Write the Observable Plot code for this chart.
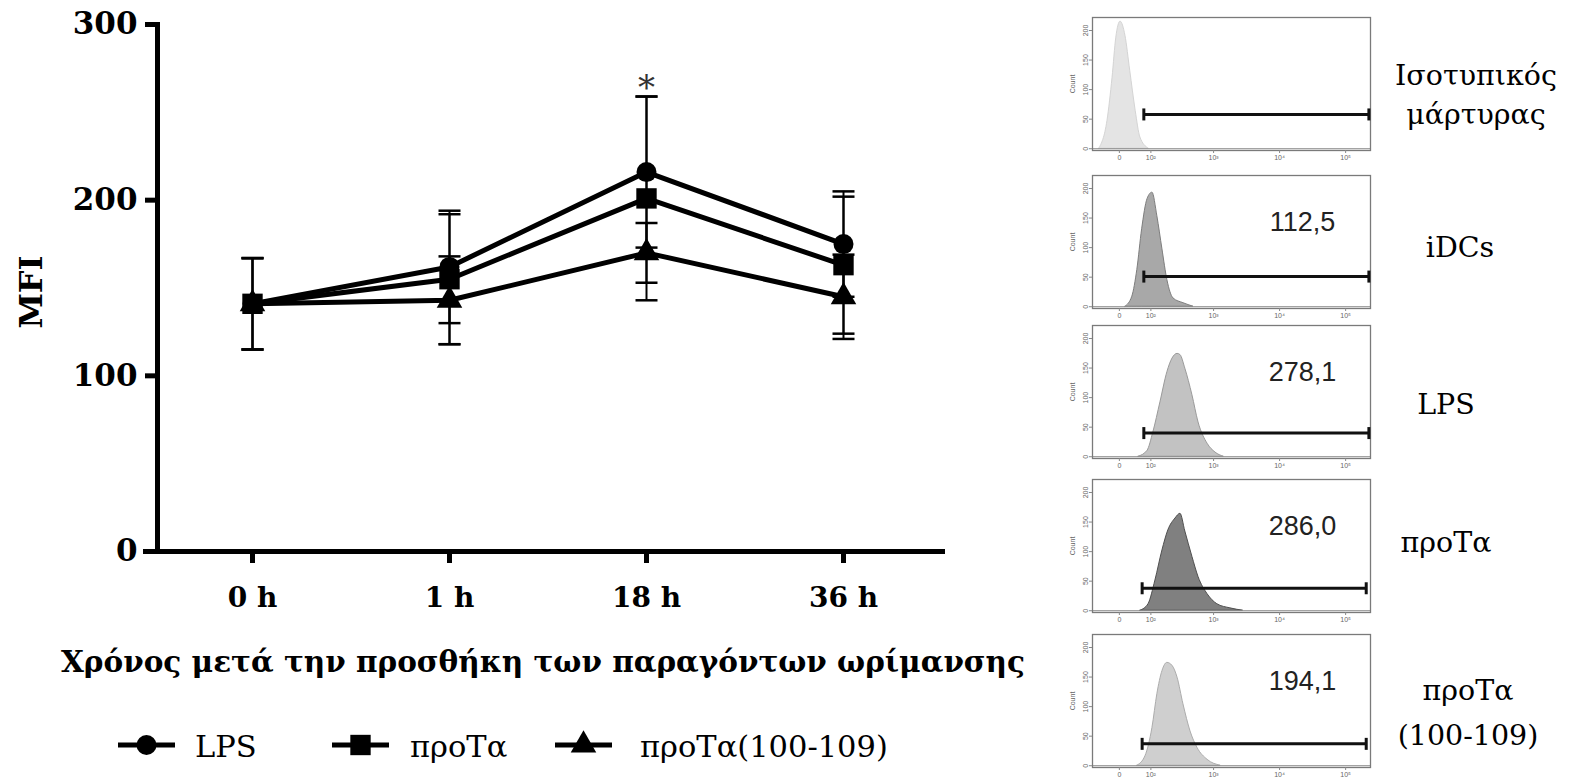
<!DOCTYPE html>
<html><head><meta charset="utf-8">
<script src="https://cdn.jsdelivr.net/npm/d3@7"></script>
<script src="https://cdn.jsdelivr.net/npm/@observablehq/plot@0.6"></script>
<style>
body{margin:0;background:#fff;}
#root{position:relative;width:1575px;height:779px;overflow:hidden;}
#root svg{position:absolute;}
</style></head><body><div id="root"></div>
<script>
// ---------- Left chart data ----------
const times = ["0 h", "1 h", "18 h", "36 h"];
const seriesNames = ["LPS", "προΤα", "προΤα(100-109)"];
const lpsMean = [141, 162, 216, 175];
const lpsErr = [26, 32, 43, 30];
const protaMean = [141, 155, 201, 163];
const protaErr = [26, 37, 58, 39];
const pepMean = [141, 143, 170, 145];
const pepErr = [26, 25, 17, 24];
const yTicks = [0, 100, 200, 300];
const signifTime = ["18 h"];
const signifSeries = ["LPS"];
const signifMark = ["*"];

// ---------- Right panels data ----------
const panelLabels = [["Ισοτυπικός", "μάρτυρας"], ["iDCs"], ["LPS"], ["προΤα"], ["προΤα", "(100-109)"]];
const mfiValues = [null, "112,5", "278,1", "286,0", "194,1"];
const hist1X = [-57, -32, -18, -8, 3, 16, 29, 45, 60, 91];
const hist1C = [0, 47, 120, 188, 215, 191, 132, 64, 19, 0];
const hist2X = [16, 35, 50, 66, 86, 107, 131, 160, 193, 242, 346, 494];
const hist2C = [0, 17, 62, 131, 182, 193, 153, 97, 45, 14, 6, 0];
const hist3X = [54, 86, 111, 148, 193, 233, 280, 311, 370, 476, 590, 810, 1070, 1430];
const hist3C = [0, 10, 41, 92, 143, 166, 174, 172, 149, 104, 58, 22, 7, 0];
const hist4X = [60, 90, 121, 160, 200, 260, 311, 370, 476, 590, 810, 1140, 1800, 2800];
const hist4C = [0, 11, 51, 102, 136, 156, 164, 134, 91, 57, 28, 11, 4, 0];
const hist5X = [50, 78, 107, 131, 160, 193, 233, 280, 346, 445, 570, 810, 1280];
const hist5C = [0, 16, 64, 121, 160, 174, 169, 149, 104, 58, 30, 10, 0];
const gateCounts = [58, 51, 40, 38, 37];
const gateStart = [72, 72, 72, 66, 66];
const gateEnd = [225000, 225000, 225000, 205000, 205000];
const countTicks = [0, 50, 100, 150, 200];
const logTicks = [0, 100, 1000, 10000, 100000];
const logTickLabels = ["0", "10²", "10³", "10⁴", "10⁵"];
const intensityDomain = [-81, 238000];
const countDomain = [-3, 222];

const SERIF = '"DejaVu Serif", serif';
const SANS = '"Liberation Sans", sans-serif';
const root = document.getElementById("root");

// ---------- Left chart ----------
const means = [lpsMean, protaMean, pepMean];
const errs = [lpsErr, protaErr, pepErr];
const rows = [];
seriesNames.forEach((s, si) => times.forEach((t, ti) => rows.push({
  series: s, time: t, mean: means[si][ti], lo: means[si][ti] - errs[si][ti], hi: means[si][ti] + errs[si][ti]
})));
const signif = signifTime.map((t, i) => {
  const r = rows.find(d => d.time === t && d.series === signifSeries[i]);
  return {time: t, y: r.hi, mark: signifMark[i]};
});
const hcap = {draw(ctx, size) { const r = Math.sqrt(size / Math.PI); ctx.moveTo(-r, 0); ctx.lineTo(r, 0); }};
const vcap = {draw(ctx, size) { const r = Math.sqrt(size / Math.PI); ctx.moveTo(0, -r); ctx.lineTo(0, r); }};

const left = Plot.plot({
  width: 1000, height: 630,
  marginLeft: 157, marginRight: 55, marginTop: 24, marginBottom: 79,
  x: {type: "point", domain: times, range: [251, 843], padding: 0},
  y: {domain: [0, 300]},
  style: {fontFamily: SERIF, fontWeight: "bold", color: "#000", background: "transparent", overflow: "visible"},
  marks: [
    Plot.ruleY([0], {strokeWidth: 5, insetLeft: -14}),
    Plot.frame({anchor: "left", strokeWidth: 5}),
    Plot.axisY({ticks: yTicks, tickSize: 12, tickPadding: 8, fontSize: 31, strokeWidth: 5, label: null}),
    Plot.axisX({tickSize: 12, tickPadding: 24, fontSize: 28, strokeWidth: 5, label: null}),
    Plot.line(rows, {x: "time", y: "mean", z: "series", stroke: "#000", strokeWidth: 5, strokeLinejoin: "round"}),
    Plot.ruleX(rows, {x: "time", y1: "lo", y2: "hi", stroke: "#000", strokeWidth: 2}),
    Plot.dot(rows, {x: "time", y: "lo", symbol: hcap, r: 11, stroke: "#000", fill: "none", strokeWidth: 2.5}),
    Plot.dot(rows, {x: "time", y: "hi", symbol: hcap, r: 11, stroke: "#000", fill: "none", strokeWidth: 2.5}),
    Plot.dot(rows.filter(d => d.series === seriesNames[0]), {x: "time", y: "mean", symbol: "circle", r: 10, fill: "#000"}),
    Plot.dot(rows.filter(d => d.series === seriesNames[1]), {x: "time", y: "mean", symbol: "square", r: 11.5, fill: "#000"}),
    Plot.dot(rows.filter(d => d.series === seriesNames[2]), {x: "time", y: "mean", symbol: "triangle", r: 9.5, fill: "#000"}),
    Plot.text(signif, {x: "time", y: "y", text: "mark", dy: -8, fontSize: 34, fontWeight: "normal", fill: "#333"})
  ]
});
left.style.left = "0px"; left.style.top = "0px";
root.appendChild(left);

// ---------- Right panels ----------
const fx = v => Math.asinh(v / 75);
const histX = [hist1X, hist2X, hist3X, hist4X, hist5X];
const histC = [hist1C, hist2C, hist3C, hist4C, hist5C];
const fills = ["#e4e4e4", "#a8a8a8", "#c2c2c2", "#808080", "#cfcfcf"];
const strokes = ["#d4d4d4", "#7d7d7d", "#9a9a9a", "#4f4f4f", "#acacac"];
const panelTops = [12, 170, 320, 474, 629];
const tickLab = new Map(logTicks.map((v, k) => [fx(v), logTickLabels[k]]));

for (let i = 0; i < 5; i++) {
  const hrows = histX[i].map((v, j) => ({u: fx(v), c: histC[i][j]}));
  const gate = [{c: gateCounts[i], x1: fx(gateStart[i]), x2: fx(gateEnd[i])}];
  const marks = [
    Plot.areaY(hrows, {x: "u", y: "c", fill: fills[i], stroke: strokes[i], strokeWidth: 1, curve: "monotone-x"}),
    Plot.ruleY([0], {stroke: "#8a8a8a", strokeWidth: 1}),
    Plot.frame({stroke: "#7a7a7a", strokeWidth: 1.3}),
    Plot.axisY({ticks: countTicks, tickSize: 3, tickPadding: 2, fontSize: 7, tickRotate: -90, fill: "#666", stroke: "#888",
      label: "Count", labelAnchor: "center", labelOffset: 22, labelArrow: "none"}),
    Plot.axisX({ticks: logTicks.map(fx), tickFormat: d => tickLab.get(d), tickSize: 3, tickPadding: 2, fontSize: 7, fill: "#666", stroke: "#888", label: null}),
    Plot.ruleY(gate, {y: "c", x1: "x1", x2: "x2", stroke: "#111", strokeWidth: 3}),
    Plot.dot(gate, {x: "x1", y: "c", symbol: vcap, r: 6, stroke: "#111", fill: "none", strokeWidth: 3}),
    Plot.dot(gate, {x: "x2", y: "c", symbol: vcap, r: 6, stroke: "#111", fill: "none", strokeWidth: 3})
  ];
  if (mfiValues[i]) marks.push(Plot.text([mfiValues[i]], {text: d => d, frameAnchor: "top-right", textAnchor: "middle", dx: -68, dy: 36, fontSize: 27, fontFamily: SANS, fill: "#222"}));
  const p = Plot.plot({
    width: 320, height: 160, marginLeft: 37, marginRight: 5, marginTop: 5, marginBottom: 22,
    x: {domain: intensityDomain.map(fx)},
    y: {domain: countDomain},
    style: {fontFamily: SANS, background: "transparent", overflow: "visible", color: "#666"},
    marks
  });
  p.style.left = "1055px"; p.style.top = panelTops[i] + "px";
  root.appendChild(p);
}

// ---------- Overlay texts & legend ----------
const ov = d3.select(root).append("svg").attr("width", 1575).attr("height", 779).style("left", "0px").style("top", "0px");
function txt(s, x, y, size, weight, anchor, family) {
  return ov.append("text").attr("x", x).attr("y", y).attr("font-size", size).attr("font-weight", weight || "normal")
    .attr("text-anchor", anchor || "middle").attr("font-family", family || SERIF).attr("fill", "#000").text(s);
}
txt("MFI", 42, 292, 32, "bold").attr("transform", "rotate(-90 42 292)");
txt("Χρόνος μετά την προσθήκη των παραγόντων ωρίμανσης", 543, 672, 29.5, "bold");

// legend
const legendSymbols = ["circle", "square", "triangle"];
const legendX = [118, 332, 555];
const legendTextX = [195, 410, 640];
const legendY = 745;
const symGen = {circle: d3.symbolCircle, square: d3.symbolSquare, triangle: d3.symbolTriangle};
const symSize = {circle: Math.PI * 100, square: Math.PI * 132, triangle: Math.PI * 90};
seriesNames.forEach((s, i) => {
  ov.append("line").attr("x1", legendX[i]).attr("x2", legendX[i] + 57).attr("y1", legendY).attr("y2", legendY)
    .attr("stroke", "#000").attr("stroke-width", 5);
  ov.append("path").attr("d", d3.symbol(symGen[legendSymbols[i]], symSize[legendSymbols[i]])())
    .attr("transform", `translate(${legendX[i] + 28.5},${legendY})`).attr("fill", "#000");
  txt(s, legendTextX[i], 757, 30.5, "normal", "start");
});

// right labels
const labelCenters = [1476, 1460, 1446, 1446, 1468];
const labelBaselines = [[85, 124], [257], [414], [552], [700, 745]];
panelLabels.forEach((lines, i) => lines.forEach((l, k) => txt(l, labelCenters[i], labelBaselines[i][k], 28.5, "normal")));
</script></body></html>
